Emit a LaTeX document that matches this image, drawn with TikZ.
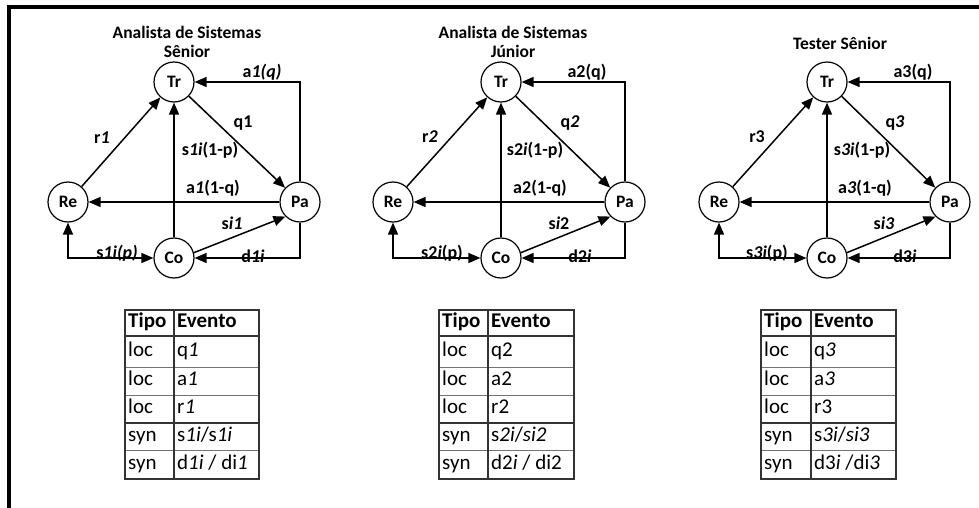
\documentclass[tikz,border=0pt]{standalone}
\usepackage{fontspec}
\setmainfont{Carlito}
\usetikzlibrary{arrows.meta}

\tikzset{
  state/.style={draw, circle, line width=1.2pt, minimum size=40pt, inner sep=0pt,
    font=\fontsize{17.5}{19}\selectfont\bfseries},
  edge/.style={line width=1.5pt, ->},
  lbl/.style={inner sep=0pt, font=\fontsize{18}{20}\selectfont\bfseries},
  ttl/.style={align=center, inner sep=0pt, font=\fontsize{17.5}{19}\selectfont\bfseries},
  cell/.style={anchor=west, inner sep=0pt, text height=13.5pt, text depth=4pt,
    font=\fontsize{21}{23}\selectfont},
  head/.style={cell, font=\fontsize{21}{23}\selectfont\bfseries},
  thin rule/.style={line width=0.8pt, black!55},
  thick rule/.style={line width=1.8pt, black!80},
}

\begin{document}
\begin{tikzpicture}[x=1pt, y=-1pt, >={Triangle[length=12pt,width=10pt]}]
	\useasboundingbox (0,0) rectangle (979,508);
	\clip (0,0) rectangle (979,508);

	% page frame
	\draw[line width=3.5pt] (9,530) -- (9,7) -- (1000,7);

	% --- Analista de Sistemas Senior ---
	\node[ttl] (ttl1) at (187,42) {Analista de Sistemas\\Sênior};

	\node[state] (tr1) at (174,82) {Tr};
	\node[state] (re1) at (68,202) {Re};
	\node[state] (pa1) at (300,202) {Pa};
	\node[state] (co1) at (174,258) {Co};

	\draw[edge] (re1) -- (tr1);
	\draw[edge] (tr1) -- (pa1);
	\draw[edge] (co1) -- (tr1);
	\draw[edge] (pa1) -- (re1);
	\draw[edge] (pa1) |- (tr1);
	\draw[edge] (pa1) |- (co1);
	\draw[edge] (co1.15) -- (pa1.225);
	\draw[edge, <->] (re1) |- (co1);

	\node[lbl] (aq1) at (262,72) {a\textit{1(q)}};
	\node[lbl] (q1) at (243,123) {q1};
	\node[lbl] (r1) at (102,138) {r\textit{1}};
	\node[lbl] (sp1) at (210,150) {s\textit{1i}(1-p)};
	\node[lbl] (anq1) at (213,188) {a\textit{1}(1-q)};
	\node[lbl] (si1) at (232,223) {s\textit{i1}};
	\node[lbl] (d1) at (253,256) {d\textit{1i}};
	\node[lbl] (sq1) at (117,253) {s\textit{1i(p)}};

	% event table
	\draw[thin rule] (125,367) -- (259,367);
	\draw[thin rule] (125,395) -- (259,395);
	\draw[thin rule] (125,450) -- (259,450);
	\draw[thick rule] (125,336) -- (259,336);
	\draw[thick rule] (125,423) -- (259,423);
	\draw[thick rule] (174,310) -- (174,479);
	\draw[thick rule] (125,310) rectangle (259,479);

	\node[head] (t1h1) at (128,323) {Tipo};
	\node[head] (t1h2) at (177,323) {Evento};
	\node[cell] (t1a1) at (128,351.5) {loc};
	\node[cell] (t1a2) at (177,351.5) {q\textit{1}};
	\node[cell] (t1b1) at (128,381) {loc};
	\node[cell] (t1b2) at (177,381) {a\textit{1}};
	\node[cell] (t1c1) at (128,409) {loc};
	\node[cell] (t1c2) at (177,409) {r\textit{1}};
	\node[cell] (t1d1) at (128,436.5) {syn};
	\node[cell] (t1d2) at (177,436.5) {s\textit{1i}/s\textit{1i}};
	\node[cell] (t1e1) at (128,464.5) {syn};
	\node[cell] (t1e2) at (177,464.5) {d\textit{1i} / di\textit{1}};

	% --- Analista de Sistemas Junior ---
	\node[ttl] (ttl2) at (513,42) {Analista de Sistemas\\Júnior};

	\node[state] (tr2) at (501,82) {Tr};
	\node[state] (re2) at (393,202) {Re};
	\node[state] (pa2) at (625,202) {Pa};
	\node[state] (co2) at (501,258) {Co};

	\draw[edge] (re2) -- (tr2);
	\draw[edge] (tr2) -- (pa2);
	\draw[edge] (co2) -- (tr2);
	\draw[edge] (pa2) -- (re2);
	\draw[edge] (pa2) |- (tr2);
	\draw[edge] (pa2) |- (co2);
	\draw[edge] (co2.15) -- (pa2.225);
	\draw[edge, <->] (re2) |- (co2);

	\node[lbl] (aq2) at (587,72) {a2(q)};
	\node[lbl] (q2) at (570,123) {q\textit{2}};
	\node[lbl] (r2) at (430,137) {r\textit{2}};
	\node[lbl] (sp2) at (535,150) {s2\textit{i}(1-p)};
	\node[lbl] (anq2) at (540,188) {a2(1-q)};
	\node[lbl] (si2) at (559,223) {s\textit{i}2};
	\node[lbl] (d2) at (580,256) {d2\textit{i}};
	\node[lbl] (sq2) at (442,253) {s2\textit{i}(p)};

	% event table
	\draw[thin rule] (439,367) -- (574,367);
	\draw[thin rule] (439,395) -- (574,395);
	\draw[thin rule] (439,450) -- (574,450);
	\draw[thick rule] (439,336) -- (574,336);
	\draw[thick rule] (439,423) -- (574,423);
	\draw[thick rule] (488,310) -- (488,479);
	\draw[thick rule] (439,310) rectangle (574,479);

	\node[head] (t2h1) at (442,323) {Tipo};
	\node[head] (t2h2) at (491,323) {Evento};
	\node[cell] (t2a1) at (442,351.5) {loc};
	\node[cell] (t2a2) at (491,351.5) {q2};
	\node[cell] (t2b1) at (442,381) {loc};
	\node[cell] (t2b2) at (491,381) {a2};
	\node[cell] (t2c1) at (442,409) {loc};
	\node[cell] (t2c2) at (491,409) {r2};
	\node[cell] (t2d1) at (442,436.5) {syn};
	\node[cell] (t2d2) at (491,436.5) {s\textit{2i}/\textit{si2}};
	\node[cell] (t2e1) at (442,464.5) {syn};
	\node[cell] (t2e2) at (491,464.5) {d2\textit{i} / di2};

	% --- Tester Senior ---
	\node[ttl] (ttl3) at (840,43) {Tester Sênior};

	\node[state] (tr3) at (827,82) {Tr};
	\node[state] (re3) at (719,202) {Re};
	\node[state] (pa3) at (950,202) {Pa};
	\node[state] (co3) at (827,258) {Co};

	\draw[edge] (re3) -- (tr3);
	\draw[edge] (tr3) -- (pa3);
	\draw[edge] (co3) -- (tr3);
	\draw[edge] (pa3) -- (re3);
	\draw[edge] (pa3) |- (tr3);
	\draw[edge] (pa3) |- (co3);
	\draw[edge] (co3.15) -- (pa3.225);
	\draw[edge, <->] (re3) |- (co3);

	\node[lbl] (aq3) at (913,72) {a3(q)};
	\node[lbl] (q3) at (895,123) {q\textit{3}};
	\node[lbl] (r3) at (757,137) {r3};
	\node[lbl] (sp3) at (862,150) {s\textit{3i}(1-p)};
	\node[lbl] (anq3) at (865,188) {a\textit{3}(1-q)};
	\node[lbl] (si3) at (884,223) {s\textit{i3}};
	\node[lbl] (d3) at (905,256) {d3\textit{i}};
	\node[lbl] (sq3) at (767,253) {s\textit{3i}(p)};

	% event table
	\draw[thin rule] (761,367) -- (896,367);
	\draw[thin rule] (761,395) -- (896,395);
	\draw[thin rule] (761,450) -- (896,450);
	\draw[thick rule] (761,336) -- (896,336);
	\draw[thick rule] (761,423) -- (896,423);
	\draw[thick rule] (811,310) -- (811,479);
	\draw[thick rule] (761,310) rectangle (896,479);

	\node[head] (t3h1) at (764,323) {Tipo};
	\node[head] (t3h2) at (814,323) {Evento};
	\node[cell] (t3a1) at (764,351.5) {loc};
	\node[cell] (t3a2) at (814,351.5) {q\textit{3}};
	\node[cell] (t3b1) at (764,381) {loc};
	\node[cell] (t3b2) at (814,381) {a\textit{3}};
	\node[cell] (t3c1) at (764,409) {loc};
	\node[cell] (t3c2) at (814,409) {r3};
	\node[cell] (t3d1) at (764,436.5) {syn};
	\node[cell] (t3d2) at (814,436.5) {s\textit{3i}/\textit{si3}};
	\node[cell] (t3e1) at (764,464.5) {syn};
	\node[cell] (t3e2) at (814,464.5) {d3\textit{i} /di\textit{3}};
\end{tikzpicture}
\end{document}
